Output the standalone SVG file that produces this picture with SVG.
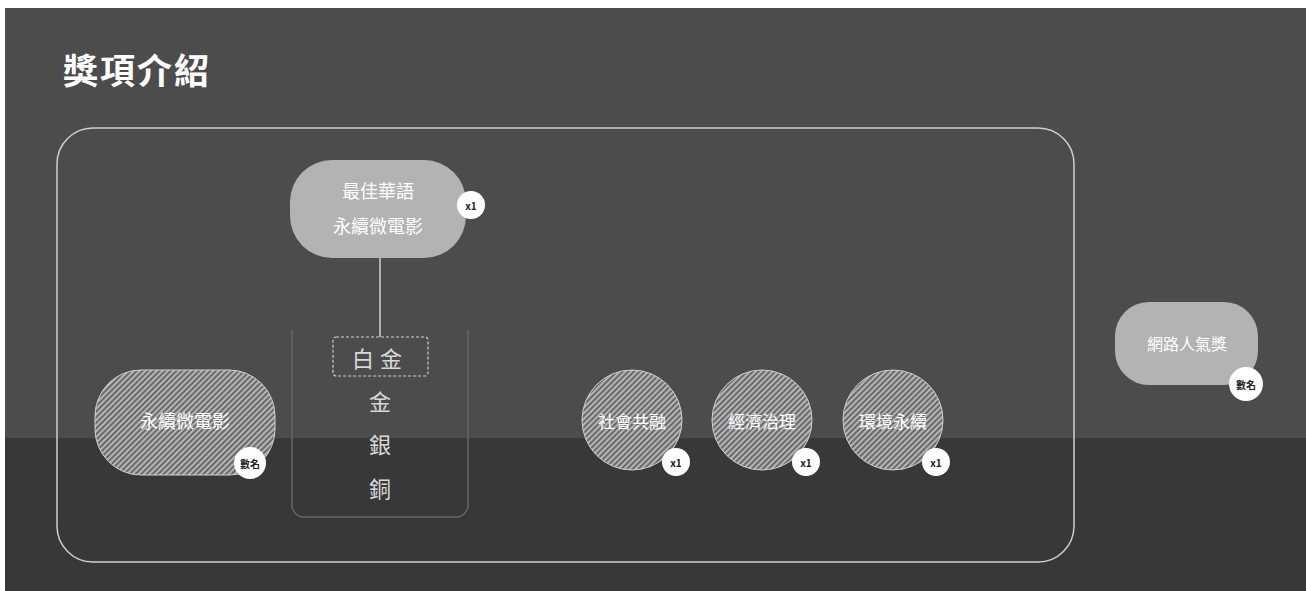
<svg xmlns="http://www.w3.org/2000/svg" width="1306" height="591" viewBox="0 0 1306 591">
<defs>
<pattern id="hatch" patternUnits="userSpaceOnUse" width="4" height="4" patternTransform="rotate(45)">
<rect width="4" height="4" fill="#6a6a6a"/>
<rect width="2" height="4" fill="#b4b4b4"/>
</pattern>
</defs>
<style>
.t{font-family:"Noto Sans CJK TC","Noto Sans CJK SC",sans-serif;fill:#ffffff;text-anchor:middle;dominant-baseline:central}
.pill{fill:#b3b3b3}
.hat{fill:url(#hatch);stroke:#d0d0d0;stroke-width:1}
.badge{fill:#ffffff}
.bt{font-family:"Noto Sans CJK TC",sans-serif;fill:#222;font-size:10px;font-weight:bold;text-anchor:middle;dominant-baseline:central}
.tier{font-family:"Noto Sans CJK TC",sans-serif;fill:#d8d8d8;font-size:22px;text-anchor:middle;dominant-baseline:central}
</style>
<rect x="0" y="0" width="1306" height="591" fill="#ffffff"/>
<rect x="5" y="8" width="1301" height="583" fill="#4c4c4c"/>
<rect x="5" y="438" width="1301" height="153" fill="#383838"/>
<text x="63" y="68" font-family="Noto Sans CJK TC, sans-serif" font-size="35" font-weight="bold" fill="#ffffff" dominant-baseline="central" letter-spacing="2">獎項介紹</text>
<rect id="container" x="57" y="128" width="1017" height="434" rx="36" fill="none" stroke="#cfcfcf" stroke-width="1.5"/>
<g id="connectors">
<line x1="380" y1="258" x2="380" y2="337" stroke="#cfcfcf" stroke-width="1.5"/>
</g>
<g id="tiers">
<path d="M292 330 V505 a12 12 0 0 0 12 12 H456 a12 12 0 0 0 12 -12 V330" fill="none" stroke="#656565" stroke-width="1.5"/>
<rect x="333" y="337" width="95" height="39" rx="3" fill="none" stroke="#cfcfcf" stroke-width="1.2" stroke-dasharray="3 2"/>
<text class="tier" x="380" y="357" letter-spacing="6" font-size="24">白金</text>
<text class="tier" x="380" y="400">金</text>
<text class="tier" x="380" y="443">銀</text>
<text class="tier" x="380" y="487">銅</text>
</g>
<g id="node-top">
<rect class="pill" x="290" y="160" width="176" height="98" rx="42"/>
<text class="t" x="378" y="190" font-size="18">最佳華語</text>
<text class="t" x="378" y="225" font-size="18">永續微電影</text>
<circle class="badge" cx="471" cy="205" r="14"/>
<text class="bt" x="471" y="205">x1</text>
</g>
<g id="node-left">
<rect class="hat" x="95" y="370" width="180" height="105" rx="46"/>
<text class="t" x="185" y="420" font-size="18">永續微電影</text>
<circle class="badge" cx="250" cy="463" r="16"/>
<text class="bt" x="250" y="463">數名</text>
</g>
<g id="node-social">
<circle class="hat" cx="632" cy="420" r="50"/>
<text class="t" x="632" y="420" font-size="17">社會共融</text>
<circle class="badge" cx="676" cy="462" r="14"/>
<text class="bt" x="676" y="462">x1</text>
</g>
<g id="node-gov">
<circle class="hat" cx="762" cy="420" r="50"/>
<text class="t" x="762" y="420" font-size="17">經濟治理</text>
<circle class="badge" cx="806" cy="462" r="14"/>
<text class="bt" x="806" y="462">x1</text>
</g>
<g id="node-env">
<circle class="hat" cx="893" cy="420" r="50"/>
<text class="t" x="893" y="420" font-size="17">環境永續</text>
<circle class="badge" cx="936" cy="462" r="14"/>
<text class="bt" x="936" y="462">x1</text>
</g>
<g id="node-right">
<rect class="pill" x="1115" y="302" width="143" height="83" rx="34"/>
<text class="t" x="1187" y="343" font-size="16">網路人氣獎</text>
<circle class="badge" cx="1246" cy="384" r="17"/>
<text class="bt" x="1246" y="384">數名</text>
</g>
</svg>
